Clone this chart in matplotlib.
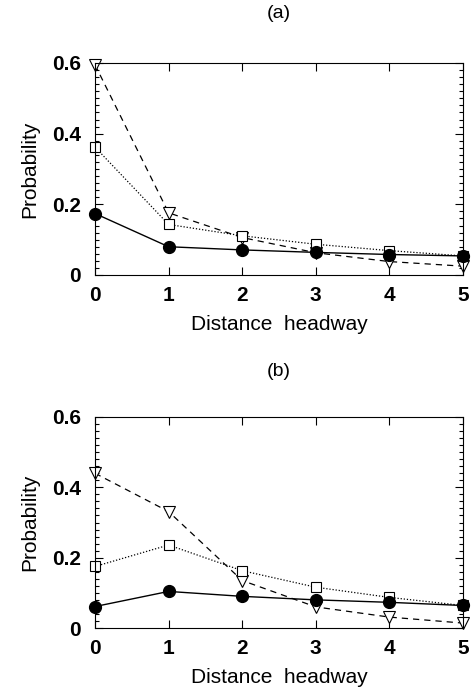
import matplotlib

matplotlib.use("Agg")
import matplotlib.pyplot as plt
from matplotlib.ticker import MultipleLocator, FixedFormatter, FixedLocator

plt.rcParams["font.family"] = ["Liberation Sans", "DejaVu Sans"]

headway = [0, 1, 2, 3, 4, 5]

# panel (a)
a_circle = [0.174, 0.080, 0.071, 0.064, 0.058, 0.054]
a_square = [0.362, 0.143, 0.111, 0.087, 0.069, 0.054]
a_triangle = [0.595, 0.176, 0.106, 0.063, 0.038, 0.025]

# panel (b)
b_circle = [0.061, 0.104, 0.090, 0.080, 0.073, 0.064]
b_square = [0.175, 0.236, 0.163, 0.116, 0.087, 0.064]
b_triangle = [0.440, 0.331, 0.135, 0.060, 0.031, 0.014]

ytick_vals = [0, 0.2, 0.4, 0.6]
ytick_labels = ["0", "0.2", "0.4", "0.6"]

W, H = 473, 690
fig = plt.figure(figsize=(W / 100, H / 100), dpi=100)


def panel(rect, circ, sq, tri):
    ax = fig.add_axes(rect)
    ax.plot(headway, tri, color="black", lw=0.9, ls=(0, (5, 4)),
            marker="v", ms=8, mfc="white", mec="black", mew=0.8, clip_on=False)
    ax.plot(headway, sq, color="black", lw=0.9, ls=(0, (1, 1.5)),
            marker="s", ms=7, mfc="white", mec="black", mew=0.8, clip_on=False)
    ax.plot(headway, circ, color="black", lw=1.0, ls="-",
            marker="o", ms=8.5, mfc="black", mec="black", clip_on=False)
    ax.set_xlim(0, 5)
    ax.set_ylim(0, 0.6)
    ax.xaxis.set_major_locator(FixedLocator(headway))
    ax.yaxis.set_major_locator(FixedLocator(ytick_vals))
    ax.yaxis.set_major_formatter(FixedFormatter(ytick_labels))
    ax.yaxis.set_minor_locator(MultipleLocator(0.02))
    ax.tick_params(axis="both", which="both", direction="in", top=True, right=True,
                   labelsize=15, width=0.8)
    ax.tick_params(axis="x", which="major", length=6, pad=8)
    ax.tick_params(axis="y", which="major", length=6, pad=10)
    ax.tick_params(axis="y", which="minor", length=3)
    for lbl in ax.get_xticklabels() + ax.get_yticklabels():
        lbl.set_fontweight("bold")
    for s in ax.spines.values():
        s.set_linewidth(0.8)
    ax.set_xlabel("Distance  headway", fontsize=15, labelpad=7)
    ax.set_ylabel("Probability", fontsize=15, labelpad=9)
    return ax


ax_a = panel([95 / W, 1 - 275 / H, 368 / W, 212 / H], a_circle, a_square, a_triangle)
ax_b = panel([95 / W, 1 - 628 / H, 368 / W, 211 / H], b_circle, b_square, b_triangle)

fig.text(279 / W, 1 - 13 / H, "(a)", fontsize=14, ha="center", va="center")
fig.text(279 / W, 1 - 372 / H, "(b)", fontsize=14, ha="center", va="center")

fig.savefig("out.png", dpi=100)
plt.close(fig)
